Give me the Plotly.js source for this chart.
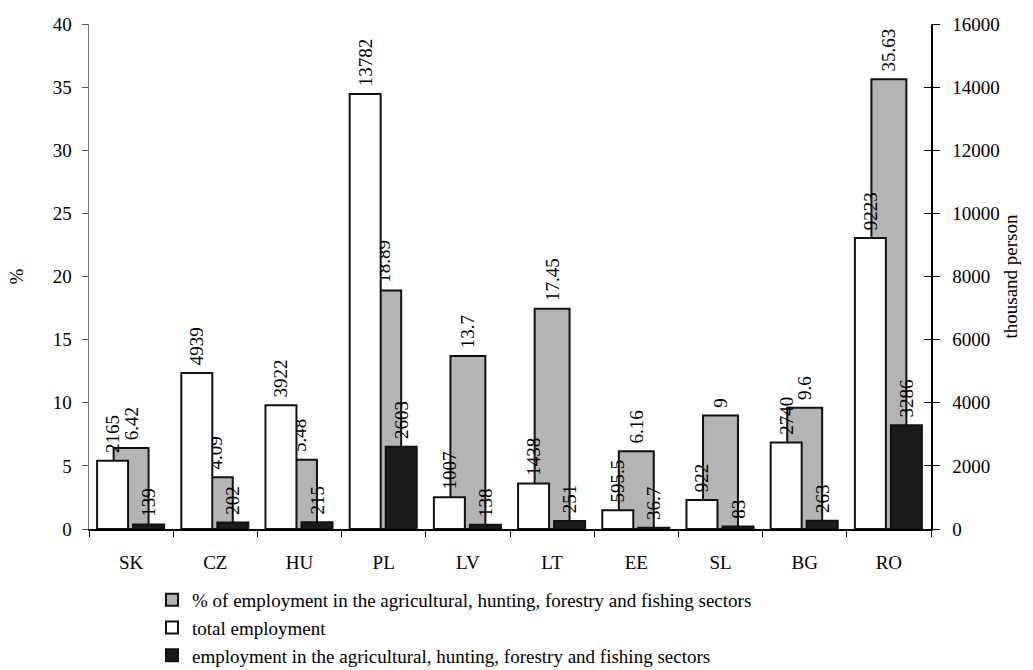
<!DOCTYPE html>
<html>
<head>
<meta charset="utf-8">
<script src="https://cdn.plot.ly/plotly-3.0.1.min.js"></script>
<style>
  html, body { margin: 0; padding: 0; background: #fff; }
  #chart { width: 1033px; height: 670px; }
</style>
</head>
<body>
<div id="chart"></div>
<script>
var categories = ["SK", "CZ", "HU", "PL", "LV", "LT", "EE", "SL", "BG", "RO"];
var pctAgri = [6.42, 4.09, 5.48, 18.89, 13.7, 17.45, 6.16, 9, 9.6, 35.63];
var totalEmployment = [2165, 4939, 3922, 13782, 1007, 1438, 595.5, 922, 2740, 9223];
var agriEmployment = [139, 202, 215, 2603, 138, 251, 36.7, 83, 263, 3286];
var leftTicks = [0, 5, 10, 15, 20, 25, 30, 35, 40];
var rightTicks = [0, 2000, 4000, 6000, 8000, 10000, 12000, 14000, 16000];

var seriesNames = [
  "% of employment in the agricultural, hunting, forestry and fishing sectors",
  "total employment",
  "employment in the agricultural, hunting, forestry and fishing sectors"
];

var FONT = "Liberation Serif";
var labelFont = { family: FONT, size: 19, color: "#000" };

function labels(arr) {
  return arr.map(function (v) { return "\u00a0" + String(v); });
}

var common = {
  type: "bar",
  textposition: "outside",
  textangle: -90,
  constraintext: "none",
  cliponaxis: false,
  textfont: labelFont,
  hoverinfo: "x+y+name"
};

var traces = [
  Object.assign({}, common, {
    name: seriesNames[0],
    x: categories,
    y: pctAgri,
    text: labels(pctAgri),
    yaxis: "y",
    width: 0.415,
    offset: -0.2075,
    marker: { color: "#b4b4b4", line: { color: "#111", width: 2 } }
  }),
  Object.assign({}, common, {
    name: seriesNames[1],
    x: categories,
    y: totalEmployment,
    text: labels(totalEmployment),
    yaxis: "y2",
    width: 0.368,
    offset: -0.404,
    marker: { color: "#ffffff", line: { color: "#111", width: 2 } }
  }),
  Object.assign({}, common, {
    name: seriesNames[2],
    x: categories,
    y: agriEmployment,
    text: labels(agriEmployment),
    yaxis: "y2",
    width: 0.368,
    offset: 0.024,
    marker: { color: "#1c1c1c", line: { color: "#111", width: 2 } }
  }),
  {
    type: "scatter",
    mode: "markers",
    x: categories,
    y: categories.map(function () { return null; }),
    yaxis: "y3",
    showlegend: false,
    hoverinfo: "skip"
  }
];

var layout = {
  width: 1033,
  height: 670,
  paper_bgcolor: "#fff",
  plot_bgcolor: "#fff",
  font: { family: FONT, size: 19, color: "#000" },
  margin: { l: 89, r: 102, t: 24, b: 141, pad: 0, autoexpand: false },
  barmode: "overlay",
  showlegend: true,
  legend: {
    x: 0.0748, xanchor: "left",
    y: -0.103, yanchor: "top",
    orientation: "v",
    traceorder: "normal",
    font: { family: FONT, size: 19, color: "#000" },
    bgcolor: "rgba(0,0,0,0)",
    tracegroupgap: 0,
    itemclick: false
  },
  xaxis: {
    type: "category",
    range: [-0.5, 9.5],
    tickson: "boundaries",
    ticks: "outside",
    ticklen: 6,
    tickcolor: "#000",
    tickwidth: 1,
    showline: true,
    linecolor: "#000",
    linewidth: 1.5,
    showgrid: false,
    zeroline: false,
    ticklabelstandoff: 16,
    tickfont: { family: FONT, size: 19, color: "#000" }
  },
  yaxis: {
    range: [0, 40],
    tickvals: leftTicks,
    ticktext: leftTicks.map(String),
    ticks: "outside",
    ticklen: 6,
    tickcolor: "#555",
    showline: true,
    linecolor: "#777",
    linewidth: 1.5,
    showgrid: false,
    zeroline: false,
    ticklabelstandoff: 6,
    tickfont: { family: FONT, size: 19, color: "#000" },
    title: { text: "%", standoff: 24, font: { family: FONT, size: 19, color: "#000" } }
  },
  yaxis2: {
    range: [0, 16000],
    tickvals: rightTicks,
    ticktext: rightTicks.map(String),
    overlaying: "y",
    side: "right",
    ticks: "outside",
    ticklen: 7,
    tickcolor: "#000",
    showline: true,
    linecolor: "#000",
    linewidth: 1.5,
    showgrid: false,
    zeroline: false,
    ticklabelstandoff: 9,
    tickfont: { family: FONT, size: 19, color: "#000" },
    title: { text: "thousand person", standoff: 5, font: { family: FONT, size: 19, color: "#000" } }
  },
  yaxis3: {
    range: [0, 16000],
    tickvals: rightTicks,
    overlaying: "y",
    side: "right",
    ticks: "inside",
    ticklen: 7,
    tickcolor: "#000",
    showticklabels: false,
    showline: false,
    showgrid: false,
    zeroline: false
  }
};

Plotly.newPlot("chart", traces, layout, { staticPlot: true, displayModeBar: false });
</script>
</body>
</html>
